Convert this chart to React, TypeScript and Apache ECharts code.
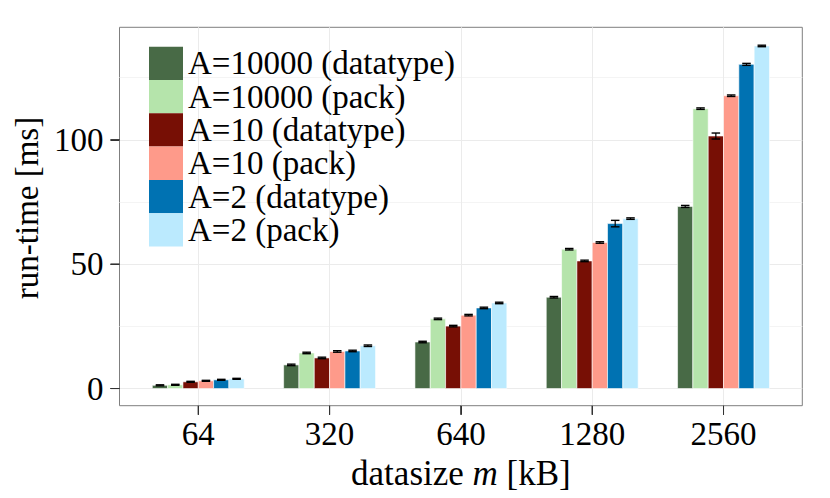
import React, { useEffect, useRef } from "react";
import * as echarts from "echarts";

const categories = ["64", "320", "640", "1280", "2560"];
const seriesNames = [
  "A=10000 (datatype)",
  "A=10000 (pack)",
  "A=10 (datatype)",
  "A=10 (pack)",
  "A=2 (datatype)",
  "A=2 (pack)",
];
const colors = ["#486a46", "#b5e4ab", "#770f05", "#fe9a8a", "#0072b2", "#bbeafe"];

const a10000Datatype = [1.3, 9.5, 18.7, 36.7, 73.2];
const a10000Pack = [1.5, 14.3, 28.0, 56.0, 112.5];
const a10Datatype = [2.7, 12.3, 25.1, 51.3, 101.5];
const a10Pack = [3.1, 14.9, 29.5, 58.7, 117.7];
const a2Datatype = [3.5, 15.1, 32.4, 66.3, 130.3];
const a2Pack = [3.9, 17.2, 34.4, 68.3, 137.7];

const a10000DatatypeErr = [0.2, 0.3, 0.3, 0.3, 0.4];
const a10000PackErr = [0.2, 0.3, 0.3, 0.3, 0.3];
const a10DatatypeErr = [0.2, 0.3, 0.3, 0.3, 1.2];
const a10PackErr = [0.2, 0.3, 0.3, 0.3, 0.3];
const a2DatatypeErr = [0.2, 0.3, 0.3, 1.3, 0.4];
const a2PackErr = [0.2, 0.3, 0.3, 0.3, 0.3];

const yTicks = [0, 50, 100];
const yMinorTicks = [25, 75, 125];

const allValues = [a10000Datatype, a10000Pack, a10Datatype, a10Pack, a2Datatype, a2Pack];
const allErrors = [a10000DatatypeErr, a10000PackErr, a10DatatypeErr, a10PackErr, a2DatatypeErr, a2PackErr];

const FONT = "Liberation Serif";
const FS = 33;
const X_MIN = -0.6;
const X_MAX = categories.length - 1 + 0.6;
const Y_MIN = -6.9;
const Y_MAX = 145.2;
const DODGE = 0.7;
const BW = DODGE / 6;
const EW = 0.065;
const TICK_LEN = 9;
const TICK_COLOR = "#333333";

export default function App() {
  const ref = useRef<HTMLDivElement>(null);
  useEffect(() => {
    if (!ref.current) return;
    const chart = echarts.init(ref.current, null, { renderer: "svg" });
    const n = seriesNames.length;
    const barSeries: any[] = seriesNames.map((name, j) => {
      const offset = (j - (n - 1) / 2) * BW;
      return {
        name,
        type: "custom",
        itemStyle: { color: colors[j] },
        data: allValues[j].map((v, i) => [i, v, allErrors[j][i]]),
        encode: { x: 0, y: 1 },
        renderItem: (params: any, api: any) => {
          const gi = api.value(0);
          const v = api.value(1);
          const e = api.value(2);
          const xc = gi + offset;
          const p0 = api.coord([xc - BW / 2, v]);
          const p1 = api.coord([xc + BW / 2, 0]);
          const lo = api.coord([xc, v - e]);
          const hi = api.coord([xc, v + e]);
          const c0 = api.coord([xc - EW / 2, v]);
          const c1 = api.coord([xc + EW / 2, v]);
          return {
            type: "group",
            children: [
              {
                type: "rect",
                shape: { x: p0[0], y: p0[1], width: p1[0] - p0[0], height: p1[1] - p0[1] },
                style: { fill: colors[j], stroke: "#ffffff", lineWidth: 0.6 },
              },
              {
                type: "line",
                shape: { x1: lo[0], y1: lo[1], x2: hi[0], y2: hi[1] },
                style: { stroke: "#000", lineWidth: 1.2 },
              },
              {
                type: "line",
                shape: { x1: c0[0], y1: lo[1], x2: c1[0], y2: lo[1] },
                style: { stroke: "#000", lineWidth: 1.4 },
              },
              {
                type: "line",
                shape: { x1: c0[0], y1: hi[1], x2: c1[0], y2: hi[1] },
                style: { stroke: "#000", lineWidth: 1.4 },
              },
            ],
          };
        },
      };
    });

    // tick marks drawn as thin rects through the axes' scales
    const yTickSeries = {
      name: "yticks",
      type: "custom",
      silent: true,
      clip: false,
      z: 10,
      data: yTicks.map((v) => [0, v]),
      encode: { x: 0, y: 1 },
      renderItem: (params: any, api: any) => {
        const p = api.coord([X_MIN, api.value(1)]);
        return {
          type: "rect",
          shape: { x: p[0] - TICK_LEN, y: p[1] - 0.5, width: TICK_LEN, height: 1 },
          style: { fill: TICK_COLOR },
        };
      },
    };
    const xTickSeries = {
      name: "xticks",
      type: "custom",
      silent: true,
      clip: false,
      z: 10,
      data: categories.map((_, i) => [i, 0]),
      encode: { x: 0, y: 1 },
      renderItem: (params: any, api: any) => {
        const p = api.coord([api.value(0), Y_MIN]);
        return {
          type: "rect",
          shape: { x: p[0] - 0.5, y: p[1], width: 1, height: TICK_LEN },
          style: { fill: TICK_COLOR },
        };
      },
    };

    chart.setOption({
      animation: false,
      backgroundColor: "#ffffff",
      grid: {
        left: 119.5,
        top: 27.3,
        right: 27.7,
        bottom: 92.3,
        show: true,
        borderColor: "#7f7f7f",
        borderWidth: 1,
        backgroundColor: "transparent",
      },
      legend: {
        orient: "vertical",
        left: 149,
        top: 46.7,
        padding: 0,
        itemGap: 0,
        itemWidth: 34,
        itemHeight: 33.3,
        icon: "rect",
        textStyle: { fontFamily: FONT, fontSize: FS, color: "#000" },
        data: seriesNames.map((name, j) => ({ name, itemStyle: { color: colors[j], borderWidth: 0 } })),
      },
      xAxis: {
        type: "value",
        min: X_MIN,
        max: X_MAX,
        name: "{a|datasize }{b|m}{a| [kB]}",
        nameLocation: "middle",
        nameGap: 28,
        nameTextStyle: {
          rich: {
            a: { fontFamily: FONT, fontSize: 35, color: "#000" },
            b: { fontFamily: FONT, fontSize: 35, color: "#000", fontStyle: "italic" },
          },
        },
        axisLine: { show: false, onZero: false },
        axisTick: {
          show: true,
          length: TICK_LEN,
          lineStyle: { color: TICK_COLOR, width: 1 },
          customValues: categories.map((_, i) => i),
        },
        axisLabel: {
          customValues: categories.map((_, i) => i),
          formatter: (v: number) => categories[Math.round(v)] ?? "",
          fontFamily: FONT,
          fontSize: FS,
          color: "#000",
          margin: 12,
        },
        splitLine: { show: true, lineStyle: { color: "#ebebeb", width: 1 } },
      },
      yAxis: [
        {
          type: "value",
          min: Y_MIN,
          max: Y_MAX,
          name: "run-time [ms]",
          nameLocation: "middle",
          nameRotate: 90,
          nameGap: 56,
          nameTextStyle: { fontFamily: FONT, fontSize: FS, color: "#000", padding: [0, 0, 0, 17] },
          axisLine: { show: false, onZero: false },
          axisTick: {
            show: true,
            length: TICK_LEN,
            lineStyle: { color: TICK_COLOR, width: 1 },
            customValues: yTicks,
          },
          axisLabel: {
            customValues: yTicks,
            fontFamily: FONT,
            fontSize: FS,
            color: "#000",
            margin: 16,
          },
          splitLine: { show: true, lineStyle: { color: "#ebebeb", width: 1 } },
        },
        {
          type: "value",
          position: "left",
          min: Y_MIN,
          max: Y_MAX,
          axisLine: { show: false, onZero: false },
          axisTick: { show: false, customValues: yMinorTicks },
          axisLabel: { show: false, customValues: yMinorTicks },
          splitLine: { show: true, lineStyle: { color: "#f4f4f4", width: 1 } },
        },
      ],
      series: [...barSeries, yTickSeries, xTickSeries],
    });

    try {
      const tickLines: any[] = [];
      yTicks.forEach((v) => {
        const p = chart.convertToPixel({ gridIndex: 0 }, [X_MIN, v]) as number[];
        if (p && isFinite(p[0]) && isFinite(p[1])) {
          tickLines.push({
            type: "rect",
            z: 100,
            silent: true,
            shape: { x: p[0] - TICK_LEN, y: p[1] - 0.5, width: TICK_LEN, height: 1 },
            style: { fill: TICK_COLOR },
          });
        }
      });
      categories.forEach((_, i) => {
        const p = chart.convertToPixel({ gridIndex: 0 }, [i, Y_MIN]) as number[];
        if (p && isFinite(p[0]) && isFinite(p[1])) {
          tickLines.push({
            type: "rect",
            z: 100,
            silent: true,
            shape: { x: p[0] - 0.5, y: p[1], width: 1, height: TICK_LEN },
            style: { fill: TICK_COLOR },
          });
        }
      });
      if (tickLines.length) chart.setOption({ graphic: tickLines });
    } catch (e) {
      // ignore
    }

    return () => chart.dispose();
  }, []);
  return (
    <div
      ref={ref}
      style={{ position: "fixed", left: 0, top: 0, width: 830, height: 498 }}
    />
  );
}
